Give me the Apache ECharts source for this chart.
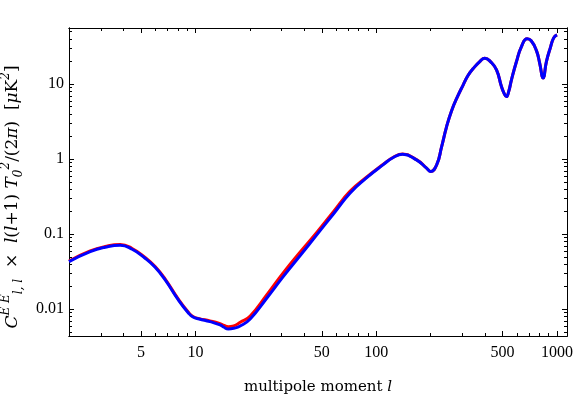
<!DOCTYPE html>
<html>
<head>
<meta charset="utf-8">
<script src="https://cdn.jsdelivr.net/npm/echarts@6/dist/echarts.min.js"></script>
<style>
  html, body { margin: 0; padding: 0; background: #fff; }
  #chart { width: 576px; height: 396px; }
</style>
</head>
<body>
<div id="chart"></div>
<script>
// multipole moment l
var ell = [2.0, 2.62, 3.17, 3.84, 4.47, 5.27, 5.99, 6.81, 8.05, 9.15,
  9.7, 10.5, 12.05, 13.7, 14.4, 15.2, 16.3, 17.7, 20.1, 24.8, 30.6, 38,
  46.9, 58, 71.6, 88, 109, 125, 140, 167, 190, 200,
  216, 230, 245, 261, 280, 303, 322, 343, 374, 399,
  430, 463, 493, 510, 525, 540, 560, 597, 636, 684,
  720, 769, 802, 838, 874, 922, 959, 1000];
// red curve
var redEE = [0.0440, 0.0598, 0.0685, 0.0728, 0.0645, 0.0490, 0.0371, 0.0252, 0.0136, 0.0091,
  0.0080, 0.0075, 0.0070, 0.00643, 0.0061, 0.00586, 0.0060, 0.00671, 0.00814, 0.0155, 0.0305, 0.058,
  0.1057, 0.200, 0.372, 0.57, 0.85, 1.07, 1.17, 0.985, 0.762, 0.686,
  0.84, 1.46, 2.7, 4.4, 6.6, 9.8, 13.0, 16.0, 20.0, 22.2,
  19.8, 15.5, 9.29, 7.54, 6.83, 7.89, 11.4, 20.0, 31.7, 40.2,
  37.8, 28.2, 19.1, 12.1, 20.0, 31.4, 41.4, 45.4];
// blue curve
var blueEE = [0.0431, 0.0586, 0.0671, 0.0713, 0.0631, 0.0479, 0.0363, 0.0246, 0.0133, 0.00894,
  0.00789, 0.00742, 0.00684, 0.00618, 0.00575, 0.00546, 0.00558, 0.00598, 0.00743, 0.0140, 0.0272, 0.052,
  0.098, 0.186, 0.352, 0.558, 0.84, 1.06, 1.16, 0.979, 0.759, 0.684,
  0.84, 1.46, 2.7, 4.4, 6.6, 9.8, 13.0, 16.0, 20.0, 22.2,
  19.8, 15.5, 9.29, 7.54, 6.83, 7.89, 11.4, 20.0, 31.7, 40.2,
  37.8, 28.2, 19.1, 12.1, 20.0, 31.4, 41.4, 45.4];

var xMajor = [5, 10, 50, 100, 500, 1000];
var xMinor = [3, 4, 6, 7, 8, 9, 20, 30, 40, 60, 70, 80, 90, 200, 300, 400, 600, 700, 800, 900];
var yMajor = [0.01, 0.1, 1, 10];
var yMinor = [0.005, 0.006, 0.007, 0.008, 0.009, 0.02, 0.03, 0.04, 0.05, 0.06, 0.07, 0.08, 0.09,
  0.2, 0.3, 0.4, 0.5, 0.6, 0.7, 0.8, 0.9, 2, 3, 4, 5, 6, 7, 8, 9, 20, 30, 40, 50];

var xRange = [2, 1136];
var yRange = [0.0044, 56];

var lg = Math.log10;
function pts(vals) {
  return ell.map(function (l, i) { return [lg(l), lg(vals[i])]; });
}

var serif = 'Liberation Serif';
var nameFont = 'DejaVu Serif';
var gridBox = { left: 69, right: 9, top: 28, bottom: 60, outerBoundsMode: 'none', containLabel: false };

function xAx(grid, pos, ticks, len, labels, extra) {
  var a = {
    type: 'value', gridIndex: grid, position: pos,
    min: lg(xRange[0]), max: lg(xRange[1]),
    axisLine: { show: true, onZero: false, lineStyle: { color: '#000', width: 1 } },
    axisTick: { show: true, inside: true, length: len, customValues: ticks.map(lg), lineStyle: { color: '#000' } },
    axisLabel: { show: labels, customValues: ticks.map(lg), margin: 9,
      fontFamily: serif, fontSize: 16, color: '#000',
      formatter: function (v) { return String(Math.round(Math.pow(10, v))); } },
    splitLine: { show: false }
  };
  return Object.assign(a, extra || {});
}
function yAx(grid, pos, ticks, len, labels, extra) {
  var a = {
    type: 'value', gridIndex: grid, position: pos,
    min: lg(yRange[0]), max: lg(yRange[1]),
    axisLine: { show: true, onZero: false, lineStyle: { color: '#000', width: 1 } },
    axisTick: { show: true, inside: true, length: len, customValues: ticks.map(lg), lineStyle: { color: '#000' } },
    axisLabel: { show: labels, customValues: ticks.map(lg), margin: 5,
      fontFamily: serif, fontSize: 16, color: '#000',
      formatter: function (v) {
        var n = Math.pow(10, v);
        return n < 1 ? n.toFixed(Math.round(-v)) : String(Math.round(n));
      } },
    splitLine: { show: false }
  };
  return Object.assign(a, extra || {});
}

var chart = echarts.init(document.getElementById('chart'), null, { renderer: 'canvas' });
var option = {
  backgroundColor: '#fff',
  animation: false,
  grid: [
    Object.assign({}, gridBox),
    Object.assign({}, gridBox)
  ],
  xAxis: [
    xAx(0, 'bottom', xMajor, 5, true, {
      name: '{t|multipole moment }{i|l}',
      nameLocation: 'middle', nameGap: 44,
      nameTextStyle: {
        rich: {
          t: { fontFamily: nameFont, fontSize: 15, color: '#000' },
          i: { fontFamily: nameFont, fontSize: 15, fontStyle: 'italic', color: '#000' }
        }
      }
    }),
    xAx(0, 'top', xMajor, 5, false),
    xAx(1, 'bottom', xMinor, 3, false),
    xAx(1, 'top', xMinor, 3, false)
  ],
  yAxis: [
    yAx(0, 'left', yMajor, 5, true, {
      name: '{i|C}{sup|E E}{sub|l, l}{t|  ×  }{i|l}{t|(}{i|l}{t|+1) }{i|T}{sub|0}{sup|2}{t|/(2}{i|π}{t|)  [}{i|μ}{t|K}{sup|2}{t|]}',
      nameLocation: 'middle', nameRotate: 90, nameGap: 40,
      nameTextStyle: {
        padding: [0, 30, 0, 0],
        rich: {
          t: { fontFamily: nameFont, fontSize: 17, color: '#000', lineHeight: 25 },
          i: { fontFamily: nameFont, fontSize: 17, fontStyle: 'italic', color: '#000', lineHeight: 25 },
          sup: { fontFamily: nameFont, fontSize: 12, fontStyle: 'italic', color: '#000', verticalAlign: 'top', lineHeight: 13 },
          sub: { fontFamily: nameFont, fontSize: 12, fontStyle: 'italic', color: '#000', verticalAlign: 'bottom', lineHeight: 13 }
        }
      }
    }),
    yAx(0, 'right', yMajor, 5, false),
    yAx(1, 'left', yMinor, 3, false),
    yAx(1, 'right', yMinor, 3, false)
  ],
  series: [
    {
      type: 'line', xAxisIndex: 0, yAxisIndex: 0,
      data: pts(redEE), smooth: 0.5, showSymbol: false,
      lineStyle: { color: '#ff0000', width: 3 }, z: 2
    },
    {
      type: 'line', xAxisIndex: 0, yAxisIndex: 0,
      data: pts(blueEE), smooth: 0.5, showSymbol: false,
      lineStyle: { color: '#0000ff', width: 3 }, z: 3
    }
  ]
};
chart.setOption(option);
</script>
</body>
</html>
